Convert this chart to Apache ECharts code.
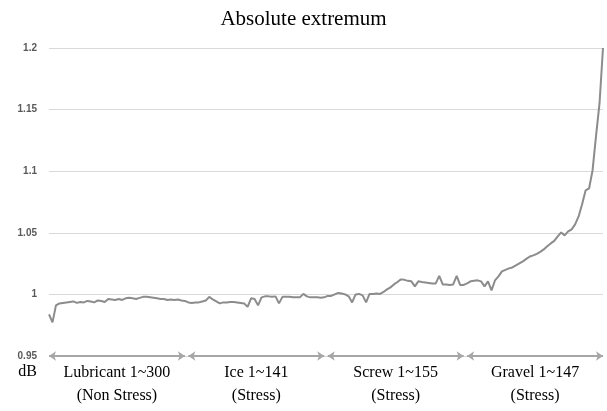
<!DOCTYPE html>
<html>
<head>
<meta charset="utf-8">
<script src="https://cdn.jsdelivr.net/npm/echarts@6/dist/echarts.min.js"></script>
<style>
  html, body { margin: 0; padding: 0; background: #fff; }
  #chart { width: 607px; height: 411px; }
</style>
</head>
<body>
<div id="chart"></div>
<script>
// values, one array per segment (equal width segments)
var lubricant = [0.9838, 0.9773, 0.9911, 0.9927, 0.9931, 0.9935, 0.9939, 0.9943, 0.9931, 0.9939,
  0.9935, 0.9947, 0.9943, 0.9935, 0.9951, 0.9947, 0.9939, 0.9963, 0.9959, 0.9955,
  0.9963, 0.9955, 0.9968, 0.9972, 0.9968, 0.9963, 0.9972, 0.998, 0.998, 0.9976,
  0.9972, 0.9968, 0.9963, 0.9963, 0.9955, 0.9959, 0.9955, 0.9959, 0.9951, 0.9947];
var ice = [0.9935, 0.9931, 0.9935, 0.9935, 0.9943, 0.9951, 0.998, 0.9959, 0.9943, 0.9927,
  0.9935, 0.9935, 0.9939, 0.9939, 0.9935, 0.9931, 0.9927, 0.9899, 0.9968, 0.9963,
  0.9911, 0.9976, 0.9984, 0.9984, 0.998, 0.9984, 0.9927, 0.998, 0.998, 0.998,
  0.9976, 0.9976, 0.9976, 1.0004, 0.9984, 0.9976, 0.9976, 0.9976, 0.9972, 0.9976];
var screw = [0.9988, 0.9988, 1.0, 1.0012, 1.0008, 1.0, 0.9984, 0.9935, 1.0, 1.0004,
  0.9992, 0.9935, 1.0004, 1.0004, 1.0008, 1.0004, 1.002, 1.0041, 1.0057, 1.0081,
  1.0101, 1.0122, 1.0118, 1.011, 1.0106, 1.0065, 1.0106, 1.0101, 1.0097, 1.0093,
  1.0089, 1.0089, 1.015, 1.0081, 1.0081, 1.0077, 1.0081, 1.015, 1.0077, 1.0077];
var gravel = [1.0089, 1.0106, 1.011, 1.0114, 1.0106, 1.0065, 1.0106, 1.0032, 1.0114, 1.0146,
  1.0187, 1.0199, 1.0211, 1.0219, 1.0235, 1.0252, 1.0268, 1.0288, 1.0308, 1.0317,
  1.0329, 1.0345, 1.0365, 1.039, 1.0414, 1.0434, 1.0471, 1.0503, 1.0479, 1.0511,
  1.0528, 1.0568, 1.0633, 1.0731, 1.0844, 1.086, 1.1006, 1.1286, 1.155, 1.2];
var segmentNames = ['Lubricant 1~300\n(Non Stress)', 'Ice 1~141\n(Stress)',
  'Screw 1~155\n(Stress)', 'Gravel 1~147\n(Stress)'];
var yTicks = { min: 0.95, max: 1.2, interval: 0.05 };

var segments = [lubricant, ice, screw, gravel];
var values = [].concat(lubricant, ice, screw, gravel);
var categories = values.map(function (v, i) { return String(i + 1); });

// one double-headed arrow under each segment
var arrows = [];
var start = 0;
segments.forEach(function (seg, k) {
  arrows.push([
    { coord: [start, yTicks.min], name: segmentNames[k] },
    { coord: [start + seg.length - 1, yTicks.min] }
  ]);
  start += seg.length;
});

var serif = '"Liberation Serif", "Times New Roman", serif';
var chart = echarts.init(document.getElementById('chart'));
chart.setOption({
  animation: false,
  title: {
    text: 'Absolute extremum',
    left: 'center',
    top: 4,
    textStyle: { fontFamily: serif, fontSize: 21, fontWeight: 'normal', color: '#000' }
  },
  grid: { left: 49, right: 4, top: 48, bottom: 55 },
  xAxis: {
    type: 'category',
    data: categories,
    boundaryGap: false,
    show: false
  },
  yAxis: {
    type: 'value',
    min: yTicks.min,
    max: yTicks.max,
    interval: yTicks.interval,
    name: 'dB',
    nameLocation: 'start',
    nameGap: 8,
    nameTextStyle: { fontFamily: serif, fontSize: 16, color: '#000', align: 'right', verticalAlign: 'top', padding: [0, 12, 0, 0] },
    axisLine: { show: false },
    axisTick: { show: false },
    axisLabel: { margin: 12, fontSize: 10, fontWeight: 'bold', color: '#595959', fontFamily: '"Liberation Sans", Arial, sans-serif' },
    splitLine: { lineStyle: { color: '#d9d9d9', width: 1 } }
  },
  series: [{
    type: 'line',
    data: values,
    showSymbol: false,
    silent: true,
    lineStyle: { color: '#8c8c8c', width: 2 },
    markLine: {
      silent: true,
      symbol: ['arrow', 'arrow'],
      symbolSize: [7, 7],
      lineStyle: { color: '#a6a6a6', width: 2, type: 'solid' },
      label: {
        show: true,
        position: 'insideMiddleBottom',
        distance: 5,
        formatter: '{b}',
        fontFamily: serif,
        fontSize: 16,
        lineHeight: 23,
        color: '#000'
      },
      data: arrows
    }
  }]
});
</script>
</body>
</html>
